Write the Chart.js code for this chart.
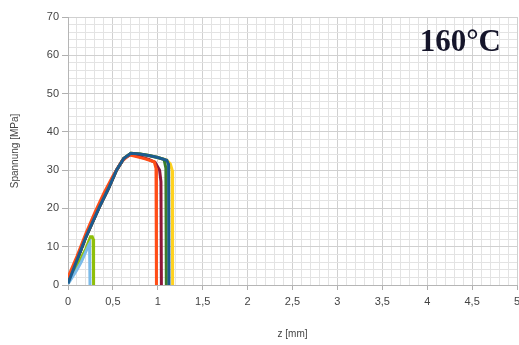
<!DOCTYPE html>
<html>
<head>
<meta charset="utf-8">
<script src="https://cdn.jsdelivr.net/npm/chart.js@4/dist/chart.umd.min.js"></script>
<style>
  html, body { margin: 0; padding: 0; background: #fff; overflow: hidden; }
  canvas { display: block; }
</style>
</head>
<body>
<canvas id="c" width="519" height="345"></canvas>
<script>
// Zugversuch bei 160 °C: Weg z [mm] gegen Spannung [MPa], je Probe ein Array-Paar
const zYellow = [0, 0.1, 0.2, 0.35, 0.45, 0.54, 0.62, 0.7, 0.8, 0.9, 1.0, 1.1, 1.14, 1.16, 1.165];
const sYellow = [0.4, 6.5, 12.6, 20.4, 25.2, 30, 33, 34.4, 34.2, 33.8, 33.3, 32.6, 31.6, 30, 0];

const zGreen = [0, 0.1, 0.2, 0.35, 0.45, 0.54, 0.62, 0.7, 0.8, 0.9, 1.0, 1.07, 1.09, 1.095];
const sGreen = [0.4, 6.5, 12.6, 20.4, 25.2, 30, 33, 34.4, 34.2, 33.8, 33.3, 32.8, 30.5, 0];

const zDarkRed = [0, 0.1, 0.2, 0.35, 0.45, 0.54, 0.62, 0.7, 0.8, 0.9, 0.97, 1.02, 1.035, 1.04];
const sDarkRed = [0.4, 6.5, 12.6, 20.4, 25.2, 30, 33, 34.1, 33.5, 32.8, 32, 30, 27, 0];

const zOrange = [0, 0.1, 0.2, 0.3, 0.4, 0.5, 0.6, 0.68, 0.75, 0.85, 0.96, 0.98, 0.985];
const sOrange = [2, 7.5, 13.5, 19, 24, 28.5, 32.3, 34, 33.6, 33, 32.2, 30.5, 0];

const zBlue = [0, 0.1, 0.2, 0.35, 0.45, 0.54, 0.62, 0.7, 0.8, 0.9, 1.0, 1.1, 1.12, 1.125];
const sBlue = [0.4, 6.5, 12.6, 20.4, 25.2, 30, 33, 34.4, 34.2, 33.8, 33.3, 32.6, 31.5, 0];

const zLightBlue = [0, 0.1, 0.15, 0.23, 0.24, 0.245];
const sLightBlue = [0.3, 4, 6.1, 10.4, 10.8, 0];

const zLime = [0, 0.1, 0.2, 0.25, 0.27, 0.28, 0.285];
const sLime = [0.5, 5, 9.5, 12.6, 12.6, 12, 0];

const xTicksMajor = [0, 0.5, 1, 1.5, 2, 2.5, 3, 3.5, 4, 4.5, 5];
const yTicksMajor = [0, 10, 20, 30, 40, 50, 60, 70];

const tempLabel = '160°C';

function pts(xs, ys) { return xs.map((x, i) => ({ x: x, y: ys[i] })); }

function series(xs, ys, color) {
  return {
    data: pts(xs, ys),
    borderColor: color,
    backgroundColor: color,
    borderWidth: 3,
    pointRadius: 0,
    tension: 0,
    fill: false
  };
}

const isMajor = (v, list) => list.some(m => Math.abs(m - v) < 1e-6);

// Temperaturangabe oben rechts im Diagrammfeld
const tempPlugin = {
  id: 'tempLabel',
  afterDatasetsDraw(chart) {
    const ctx = chart.ctx, a = chart.chartArea;
    ctx.save();
    ctx.font = 'bold 31px "Liberation Serif", "DejaVu Serif", serif';
    ctx.fillStyle = '#15152a';
    ctx.textAlign = 'right';
    ctx.textBaseline = 'alphabetic';
    ctx.fillText(tempLabel, a.right - 16, a.top + 34);
    ctx.restore();
  }
};

// weißer Hintergrund
const bgPlugin = {
  id: 'bg',
  beforeDraw(chart) {
    const ctx = chart.ctx;
    ctx.save();
    ctx.fillStyle = '#fff';
    ctx.fillRect(0, 0, chart.width, chart.height);
    ctx.restore();
  }
};

const minorGrid = '#e3e3e3';
const majorGrid = '#d0d0d0';

// Chart.js zeichnet den ersten Datensatz zuoberst
new Chart(document.getElementById('c'), {
  type: 'line',
  data: {
    datasets: [
      series(zBlue, sBlue, '#1b5c8e'),
      series(zOrange, sOrange, '#ff4d17'),
      series(zLightBlue, sLightBlue, '#7cbbe9'),
      series(zLime, sLime, '#8fbf0a'),
      series(zDarkRed, sDarkRed, '#8e1638'),
      series(zGreen, sGreen, '#3a7d2c'),
      series(zYellow, sYellow, '#ffd21f')
    ]
  },
  options: {
    responsive: false,
    animation: false,
    devicePixelRatio: 1,
    layout: { padding: { top: 17, right: 2, left: 6, bottom: 2 } },
    plugins: { legend: { display: false }, tooltip: { enabled: false } },
    scales: {
      x: {
        type: 'linear',
        min: 0, max: 5,
        ticks: {
          stepSize: 0.1,
          autoSkip: false,
          maxRotation: 0,
          color: '#444',
          padding: 5,
          font: { family: '"Liberation Sans", Arial, sans-serif', size: 11 },
          callback: v => isMajor(v, xTicksMajor) ? String(+v.toFixed(1)).replace('.', ',') : ''
        },
        grid: {
          color: c => isMajor(c.tick.value, xTicksMajor) ? majorGrid : minorGrid,
          tickColor: c => isMajor(c.tick.value, xTicksMajor) ? '#b0b0b0' : 'rgba(0,0,0,0)',
          tickLength: 5,
          lineWidth: 1
        },
        border: { color: '#b5b5b5', width: 1 },
        title: {
          display: true,
          text: 'z [mm]',
          color: '#444',
          font: { family: '"Liberation Sans", Arial, sans-serif', size: 10 },
          padding: { top: 12, bottom: 3 }
        },
        afterFit(s) { s.height = 58; s.paddingRight = 0; }
      },
      y: {
        type: 'linear',
        min: 0, max: 70,
        ticks: {
          stepSize: 2,
          autoSkip: false,
          color: '#444',
          padding: 3,
          font: { family: '"Liberation Sans", Arial, sans-serif', size: 11 },
          callback: v => isMajor(v, yTicksMajor) ? String(v) : ''
        },
        grid: {
          color: c => isMajor(c.tick.value, yTicksMajor) ? majorGrid : minorGrid,
          tickColor: c => isMajor(c.tick.value, yTicksMajor) ? '#b0b0b0' : 'rgba(0,0,0,0)',
          tickLength: 6,
          lineWidth: 1
        },
        border: { color: '#b5b5b5', width: 1 },
        title: {
          display: true,
          text: 'Spannung [MPa]',
          color: '#444',
          font: { family: '"Liberation Sans", Arial, sans-serif', size: 10 },
          padding: { top: 3, bottom: 5 }
        },
        afterFit(s) { s.width = 62; }
      }
    }
  },
  plugins: [bgPlugin, tempPlugin]
});
</script>
</body>
</html>
